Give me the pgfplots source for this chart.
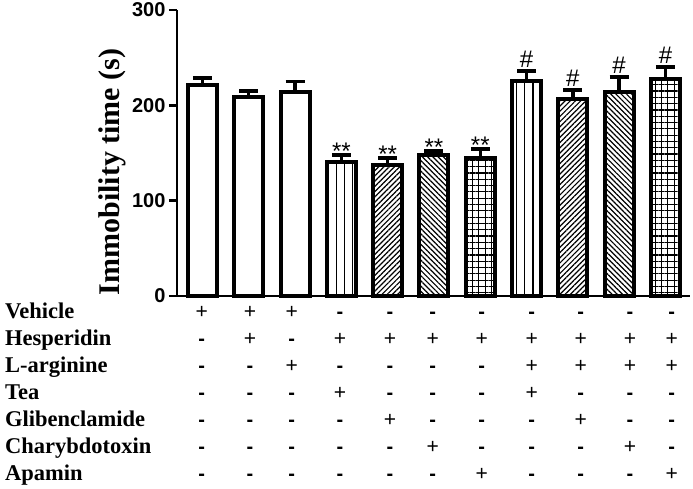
\documentclass[border=0pt]{standalone}
\usepackage{fontspec}
\setmainfont{Liberation Serif}
\newfontfamily\arialfont{Liberation Sans}
\usepackage{pgfplots}
\pgfplotsset{compat=1.18}
\usetikzlibrary{patterns.meta}

\tikzset{
  vlines/.style={pattern={Lines[angle=90,distance=8.2pt,line width=1.3pt]}},
  nelines/.style={pattern={Lines[angle=45,distance=3.7pt,line width=1.2pt]}},
  nwlines/.style={pattern={Lines[angle=-45,distance=3.7pt,line width=1.2pt]}},
  gridpat/.style={pattern={Hatch[angle=0,distance=6.3pt,line width=1.2pt]}},
}
\pgfplotsset{
  bar/.style={ybar, bar width=29pt, draw=black, line width=4pt,
    error bars/y dir=plus, error bars/y explicit,
    error bars/error mark=-,
    error bars/error bar style={line width=3.4pt, black},
    error bars/error mark options={rotate=90, line width=3.8pt, mark size=9.5pt, black}},
  sig/.style={draw=none, mark=none, point meta=explicit symbolic,
    nodes near coords, nodes near coords style={anchor=south, inner sep=0pt,
      font=\arialfont\fontsize{24}{24}\selectfont}},
}
\newcommand\Y{{\arialfont\fontsize{21}{21}\selectfont+}}
\newcommand\N{{\arialfont\bfseries\fontsize{20}{20}\selectfont-}}

\begin{document}
\begin{tikzpicture}
\begin{axis}[
    scale only axis,
    width=513pt, height=286pt,
    xmin=-0.55, xmax=10.53,
    ymin=0, ymax=300,
    axis x line*=bottom, axis y line*=left,
    axis line style={line width=2.6pt},
    xtick=\empty,
    ytick={0,100,200,300},
    tick align=outside,
    major tick length=8pt,
    ytick style={line width=2.6pt, black},
    /pgf/number format/assume math mode=true,
    yticklabel style={font=\arialfont\bfseries\fontsize{20}{20}\selectfont},
    ylabel={Immobility time (s)},
    ylabel style={at={(axis description cs:-0.127,0.434)}, anchor=center,
      font=\bfseries\fontsize{30}{30}\selectfont},
    clip=false,
]
  % white bars
  \addplot[bar, fill=white] coordinates {
    (0,221) +- (0,8)
    (1,208.5) +- (0,6.8)
    (2,213.5) +- (0,11.5)
  };
  % vertical lines (Tea)
  \addplot[bar, vlines] coordinates {
    (3,141) +- (0,7)
    (7,226) +- (0,10.3)
  };
  % /// (Glibenclamide)
  \addplot[bar, nelines] coordinates {
    (4,137) +- (0,7.7)
    (8,207) +- (0,9.3)
  };
  % \\\ (Charybdotoxin)
  \addplot[bar, nwlines] coordinates {
    (5,148) +- (0,4)
    (9,213.5) +- (0,16.2)
  };
  % grid (Apamin)
  \addplot[bar, gridpat] coordinates {
    (6,144.5) +- (0,10)
    (10,227.5) +- (0,12.3)
  };
  % significance marks
  \addplot[sig, nodes near coords style={yshift=-4.5pt}] coordinates {
    (3,148)[**] (4,144.7)[**] (5,152)[**] (6,154.5)[**]
  };
  \addplot[sig, nodes near coords style={yshift=3.5pt}] coordinates {
    (7,236.3)[\#] (8,216.3)[\#] (9,229.7)[\#] (10,239.8)[\#]
  };
\end{axis}
% treatment table below the axis
\def\colx{{24.7,73,114.7,163,213,255.7,304.7,354.7,403.7,453,494.7}}
\foreach \lab/\yy/\row in {
    Vehicle/-22/{\Y,\Y,\Y,\N,\N,\N,\N,\N,\N,\N,\N},
    Hesperidin/-49/{\N,\Y,\N,\Y,\Y,\Y,\Y,\Y,\Y,\Y,\Y},
    L-arginine/-76/{\N,\N,\Y,\N,\N,\N,\N,\Y,\Y,\Y,\Y},
    Tea/-103/{\N,\N,\N,\Y,\N,\N,\N,\Y,\N,\N,\N},
    Glibenclamide/-130/{\N,\N,\N,\N,\Y,\N,\N,\N,\Y,\N,\N},
    Charybdotoxin/-157/{\N,\N,\N,\N,\N,\Y,\N,\N,\N,\Y,\N},
    Apamin/-184/{\N,\N,\N,\N,\N,\N,\Y,\N,\N,\N,\Y}} {
  \node[anchor=base west, inner sep=0pt, font=\bfseries\fontsize{22.5}{22.5}\selectfont]
    at (-172pt,\yy pt) {\lab};
  \foreach \s [count=\i from 0] in \row {
    \pgfmathsetmacro\xx{\colx[\i]}
    \node[anchor=base, inner sep=0pt] at (\xx pt,\yy pt) {\s};
  }
}
\pgfresetboundingbox
\path[use as bounding box] (-177pt,-192pt) rectangle (516pt,296pt);
\end{tikzpicture}
\end{document}
